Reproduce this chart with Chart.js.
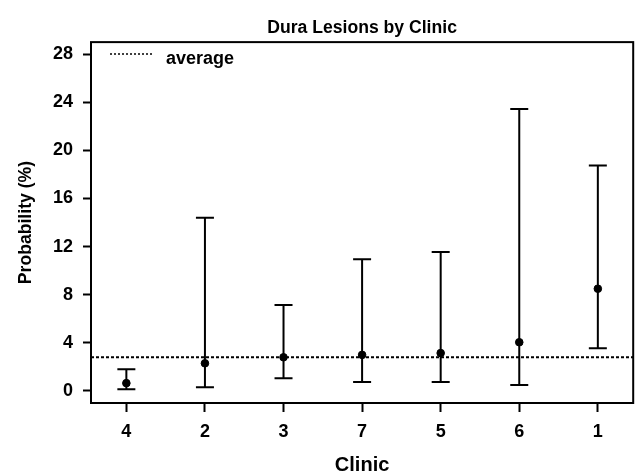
<!DOCTYPE html>
<html>
<head>
<meta charset="utf-8">
<script src="https://cdn.jsdelivr.net/npm/chart.js@4"></script>
<style>
  html, body { margin: 0; padding: 0; background: #fff; }
  canvas { display: block; }
</style>
</head>
<body>
<canvas id="grafica" width="638" height="476"></canvas>
<script>
// datos
const clinicas = ["4", "2", "3", "7", "5", "6", "1"];
const estimacion = [0.65, 2.3, 2.8, 3.0, 3.15, 4.05, 8.5];
const inferior = [0.15, 0.3, 1.05, 0.75, 0.75, 0.5, 3.55];
const superior = [1.8, 14.4, 7.15, 10.95, 11.55, 23.45, 18.75];
const promedio = 2.8;
const ticksY = [0, 4, 8, 12, 16, 20, 24, 28];

const fuente = "'Liberation Sans', Arial, Helvetica, sans-serif";
const xMin = 0.55;
const xMax = 7.45;

const puntos = clinicas.map((c, i) => ({ x: i + 1, y: estimacion[i] }));

// barras de error, caja y leyenda
const pluginBarras = {
    id: "barras",
    beforeDatasetsDraw(chart) {
        const ctx = chart.ctx;
        const sx = chart.scales.x;
        const sy = chart.scales.y;
        ctx.save();
        ctx.strokeStyle = "#000";
        ctx.lineWidth = 2;
        ctx.setLineDash([]);
        for (let i = 0; i < clinicas.length; i++) {
            const x = sx.getPixelForValue(i + 1);
            const y1 = sy.getPixelForValue(inferior[i]);
            const y2 = sy.getPixelForValue(superior[i]);
            ctx.beginPath();
            ctx.moveTo(x, y1);
            ctx.lineTo(x, y2);
            ctx.moveTo(x - 9, y1);
            ctx.lineTo(x + 9, y1);
            ctx.moveTo(x - 9, y2);
            ctx.lineTo(x + 9, y2);
            ctx.stroke();
        }
        ctx.restore();
    },
    afterDraw(chart) {
        const ctx = chart.ctx;
        const a = chart.chartArea;
        ctx.save();
        ctx.strokeStyle = "#000";
        ctx.lineWidth = 2;
        ctx.strokeRect(a.left, a.top, a.right - a.left, a.bottom - a.top);

        // leyenda
        const ly = a.top + 12;
        ctx.lineWidth = 1.5;
        ctx.setLineDash([2, 2]);
        ctx.beginPath();
        ctx.moveTo(a.left + 19, ly);
        ctx.lineTo(a.left + 62, ly);
        ctx.stroke();
        ctx.setLineDash([]);
        ctx.fillStyle = "#000";
        ctx.font = "bold 18px " + fuente;
        ctx.textBaseline = "alphabetic";
        ctx.fillText("average", a.left + 75, ly + 10);
        ctx.restore();
    }
};

new Chart(document.getElementById("grafica").getContext("2d"), {
    type: "scatter",
    data: {
        datasets: [
            {
                label: "average",
                type: "line",
                data: [{ x: xMin, y: promedio }, { x: xMax, y: promedio }],
                borderColor: "#000",
                borderWidth: 2,
                borderDash: [3, 2],
                pointRadius: 0,
                fill: false
            },
            {
                label: "estimate",
                data: puntos,
                backgroundColor: "#000",
                borderColor: "#000",
                pointRadius: 3.8,
                pointHoverRadius: 3.8
            }
        ]
    },
    options: {
        responsive: false,
        animation: false,
        layout: { padding: { left: 0, right: 4, top: 0, bottom: 0 } },
        plugins: {
            legend: { display: false },
            tooltip: { enabled: false },
            title: {
                display: true,
                text: "Dura Lesions by Clinic",
                fullSize: false,
                color: "#000",
                font: { family: fuente, size: 17.6, weight: "bold", lineHeight: 1.2 },
                padding: { top: 18, bottom: 3 }
            }
        },
        scales: {
            x: {
                type: "linear",
                min: xMin,
                max: xMax,
                afterBuildTicks(scale) {
                    scale.ticks = clinicas.map((c, i) => ({ value: i + 1 }));
                },
                afterFit(scale) { scale.height = 73; },
                grid: {
                    drawOnChartArea: false,
                    drawTicks: true,
                    tickLength: 9,
                    tickWidth: 2,
                    tickColor: "#000"
                },
                border: { display: false },
                ticks: {
                    color: "#000",
                    padding: 9,
                    font: { family: fuente, size: 18, weight: "bold" },
                    callback: (v) => clinicas[v - 1]
                },
                title: {
                    display: true,
                    text: "Clinic",
                    color: "#000",
                    font: { family: fuente, size: 20, weight: "bold", lineHeight: 1 },
                    padding: { top: 0, bottom: 1 }
                }
            },
            y: {
                min: -1,
                max: 29,
                afterBuildTicks(scale) {
                    scale.ticks = ticksY.map(v => ({ value: v }));
                },
                afterFit(scale) { scale.width = 91; },
                grid: {
                    drawOnChartArea: false,
                    drawTicks: true,
                    tickLength: 8,
                    tickWidth: 2,
                    tickColor: "#000"
                },
                border: { display: false },
                ticks: {
                    color: "#000",
                    padding: 10,
                    font: { family: fuente, size: 18, weight: "bold" }
                },
                title: {
                    display: true,
                    text: "Probability (%)",
                    color: "#000",
                    font: { family: fuente, size: 17.6, weight: "bold", lineHeight: 1.2 },
                    padding: { top: 16, bottom: 0 }
                }
            }
        }
    },
    plugins: [pluginBarras]
});
</script>
</body>
</html>
